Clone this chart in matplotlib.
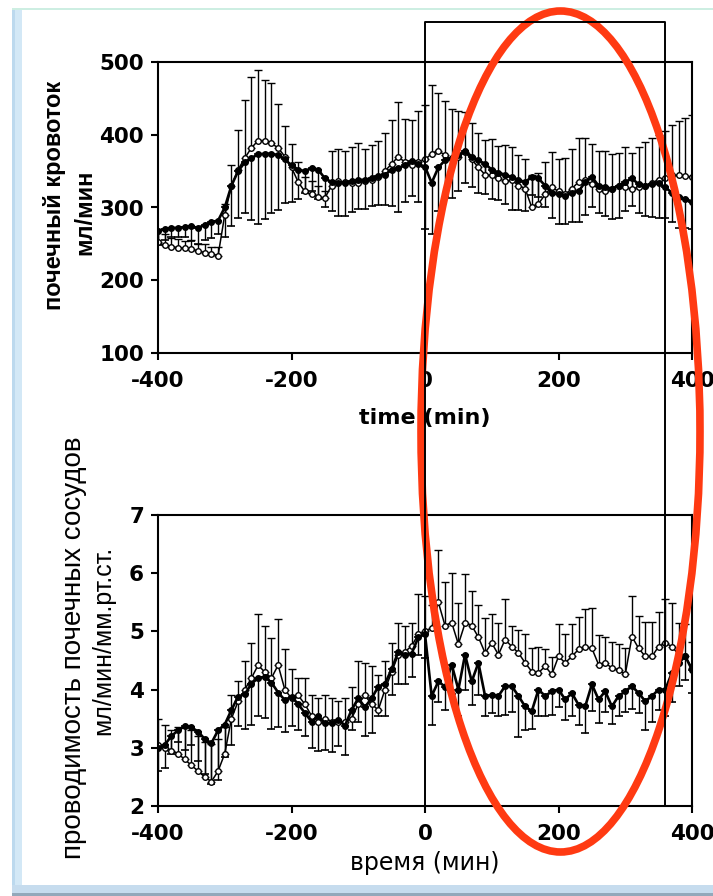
import numpy as np
import matplotlib
matplotlib.use("Agg")
import matplotlib.pyplot as plt
from matplotlib.patches import Rectangle, Ellipse
from matplotlib.lines import Line2D
from matplotlib.transforms import blended_transform_factory

plt.rcParams["axes.unicode_minus"] = False

# ── data ──
time = np.arange(-400, 401, 10)

# renal blood flow, ml/min
flow_a = [268, 270, 272, 272, 273, 274, 272, 276, 280, 282,
          300, 330, 350, 362, 368, 373, 374, 374, 372, 366,
          358, 352, 350, 354, 352, 340, 335, 333, 334, 336,
          338, 338, 340, 343, 345, 352, 354, 358, 364, 360,
          356, 334, 355, 365, 368, 372, 378, 370, 365, 360,
          352, 348, 345, 342, 338, 335, 342, 340, 330, 320,
          318, 316, 320, 322, 335, 342, 330, 328, 326, 330,
          335, 340, 332, 330, 332, 333, 328, 320, 314, 312, 308]
flow_a_up = [18, 15, 12, 12, 10, 12, 10, 12, 10, 12,
             15, 28, 55, 80, 98, 97, 83, 83, 60, 42,
             32, 28, 20, 18, 14, 10, 48, 44, 42, 50,
             55, 45, 48, 50, 52, 60, 75, 60, 62, 70,
             75, 95, 80, 75, 70, 62, 55, 50, 48, 48,
             50, 45, 50, 45, 42, 40, 45, 42, 45, 48,
             45, 50, 55, 60, 58, 55, 52, 55, 48, 45,
             55, 50, 55, 60, 62, 62, 65, 70, 75, 80, 85]
flow_b = [252, 248, 246, 245, 244, 243, 240, 238, 236, 234,
          290, 330, 352, 368, 382, 392, 392, 388, 382, 370,
          355, 335, 322, 318, 315, 313, 330, 336, 335, 333,
          334, 336, 338, 342, 350, 360, 370, 362, 358, 362,
          366, 374, 378, 372, 366, 370, 376, 366, 355, 345,
          344, 340, 336, 338, 330, 326, 300, 305, 318, 328,
          322, 318, 326, 335, 338, 332, 326, 322, 325, 330,
          328, 325, 328, 330, 334, 338, 340, 344, 344, 343, 342]
flow_b_down = [20, 15, 12, 12, 14, 20, 22, 20, 22, 18,
               40, 55, 65, 70, 85, 95, 90, 82, 75, 60,
               50, 40, 30, 32, 40, 40, 40, 45, 45, 42,
               40, 40, 38, 40, 42, 50, 60, 50, 48, 52,
               85, 70, 60, 50, 55, 50, 45, 42, 45, 42,
               40, 38, 40, 45, 42, 40, 25, 25, 30, 35,
               40, 38, 40, 42, 45, 42, 38, 40, 42, 45,
               40, 38, 40, 42, 45, 48, 42, 40, 42, 40, 38]

# renal vascular conductance, ml/min/mmHg
cond_c = [3.05, 3.0, 2.95, 2.9, 2.8, 2.7, 2.6, 2.5, 2.42, 2.6,
          2.9, 3.5, 3.8, 4.0, 4.2, 4.42, 4.3, 4.2, 4.42, 4.0,
          3.85, 3.9, 3.75, 3.55, 3.45, 3.5, 3.45, 3.45, 3.45, 3.5,
          3.75, 3.9, 3.75, 3.65, 4.0, 4.3, 4.6, 4.65, 4.75, 4.95,
          5.0, 5.05, 5.5, 5.1, 5.15, 4.78, 5.14, 5.1, 4.9, 4.63,
          4.8, 4.6, 4.86, 4.74, 4.63, 4.46, 4.31, 4.29, 4.4, 4.26,
          4.57, 4.46, 4.57, 4.69, 4.74, 4.71, 4.43, 4.46, 4.37, 4.34,
          4.26, 4.91, 4.71, 4.57, 4.57, 4.74, 4.8, 4.74, 4.6, 4.57, 4.37]
cond_c_up = [0.45, 0.4, 0.35, 0.45, 0.55, 0.6, 0.6, 0.6, 0.65, 0.55,
             0.45, 0.4, 0.35, 0.5, 0.6, 0.88, 0.8, 0.68, 0.8, 0.7,
             0.5, 0.3, 0.45, 0.35, 0.4, 0.4, 0.4, 0.35, 0.4, 0.55,
             0.75, 0.55, 0.65, 0.6, 0.5, 0.5, 0.55, 0.45, 0.4, 0.7,
             0.6, 0.4, 0.9, 0.75, 0.85, 0.7, 0.85, 0.6, 0.55, 0.6,
             0.5, 0.55, 0.7, 0.35, 0.4, 0.5, 0.4, 0.45, 0.3, 0.3,
             0.55, 0.5, 0.55, 0.55, 0.65, 0.7, 0.5, 0.45, 0.45, 0.45,
             0.45, 0.7, 0.55, 0.6, 0.6, 0.6, 0.75, 0.75, 0.55, 0.55, 0.45]
cond_d = [3.0, 3.05, 3.2, 3.3, 3.37, 3.35, 3.28, 3.15, 3.08, 3.3,
          3.4, 3.65, 3.88, 3.92, 4.1, 4.2, 4.22, 4.12, 3.95, 3.82,
          3.88, 3.75, 3.6, 3.45, 3.55, 3.42, 3.42, 3.48, 3.38, 3.65,
          3.85, 3.7, 3.85, 4.05, 4.1, 4.35, 4.65, 4.6, 4.62, 4.9,
          4.95, 3.89, 4.14, 4.05, 4.43, 4.0, 4.6, 4.14, 4.46, 3.89,
          3.9, 3.89, 4.06, 4.06, 3.89, 3.71, 3.63, 4.0, 3.89, 3.97,
          4.0, 3.83, 3.94, 3.74, 3.71, 4.09, 3.83, 3.97, 3.71, 3.89,
          3.97, 4.06, 3.94, 3.8, 3.89, 4.0, 4.0, 4.29, 4.46, 4.57, 4.34]
cond_d_down = [0.4, 0.4, 0.3, 0.2, 0.4, 0.3, 0.5, 0.6, 0.7, 0.85,
               0.55, 0.6, 0.5, 0.6, 0.7, 0.65, 0.7, 0.8, 0.6, 0.55,
               0.5, 0.45, 0.4, 0.45, 0.6, 0.45, 0.5, 0.45, 0.5, 0.35,
               0.4, 0.5, 0.6, 0.5, 0.55, 0.45, 0.55, 0.5, 0.4, 0.3,
               0.4, 0.5, 0.35, 0.4, 0.5, 0.45, 0.6, 0.4, 0.55, 0.35,
               0.3, 0.35, 0.5, 0.45, 0.7, 0.4, 0.3, 0.45, 0.35, 0.4,
               0.3, 0.35, 0.4, 0.35, 0.45, 0.45, 0.4, 0.35, 0.3, 0.35,
               0.35, 0.4, 0.35, 0.5, 0.45, 0.35, 0.45, 0.5, 0.4, 0.4, 0.4]

x_ticks = [-400, -200, 0, 200, 400]
window = (0, 360)  # highlighted period, min

W, H = 713, 896
fig = plt.figure(figsize=(W / 100, H / 100), dpi=100)
fig.patch.set_facecolor("white")


def px_axes(left, top, right, bottom):
    return fig.add_axes([left / W, 1 - bottom / H, (right - left) / W, (bottom - top) / H])


ax1 = px_axes(158, 62, 692, 353)
ax2 = px_axes(158, 515, 692, 806)

zeros = np.zeros(len(time))
err_kw = dict(color="black", ecolor="black", elinewidth=1.0, capsize=2.6, capthick=1.2)


def draw_pair(ax, y_fill, down, y_open, up):
    ax.errorbar(time, y_open, yerr=[zeros, up], fmt="-o", lw=1.1, ms=4.0,
                mfc="white", mec="black", mew=1.0, **err_kw)
    ax.errorbar(time, y_fill, yerr=[down, zeros], fmt="-o", lw=1.9, ms=4.0,
                mfc="black", mec="black", **err_kw)


draw_pair(ax1, flow_a, flow_b_down, flow_b, flow_a_up)
draw_pair(ax2, cond_d, cond_d_down, cond_c, cond_c_up)

for ax in (ax1, ax2):
    ax.set_xlim(-400, 400)
    ax.set_xticks(x_ticks)
    for s in ax.spines.values():
        s.set_linewidth(1.5)
    ax.tick_params(direction="out", length=5, width=1.5)
    ax.tick_params(axis="x", pad=8)
    ax.tick_params(axis="y", pad=5)

ax1.set_ylim(100, 500)
ax1.set_yticks([100, 200, 300, 400, 500])
ax2.set_ylim(2, 7)
ax2.set_yticks([2, 3, 4, 5, 6, 7])
for ax in (ax1, ax2):
    for lab in ax.get_xticklabels() + ax.get_yticklabels():
        lab.set_fontweight("bold")
        lab.set_fontsize(15.5)

ax1.set_xlabel("time (min)", fontsize=16, fontweight="bold", labelpad=12)
ax2.set_xlabel("время (мин)", fontsize=17, labelpad=5)

# y labels (added in Russian)
rus = "Liberation Sans"
fig.text(55 / W, 1 - 195 / H, "почечный кровоток", rotation=90, ha="center", va="center",
         fontsize=17, fontweight="bold", family=rus)
fig.text(85 / W, 1 - 212 / H, "мл/мин", rotation=90, ha="center", va="center",
         fontsize=17, fontweight="bold", family=rus)
fig.text(74 / W, 1 - 648 / H, "проводимость почечных сосудов", rotation=90, ha="center",
         va="center", fontsize=20, family=rus)
fig.text(103 / W, 1 - 640 / H, "мл/мин/мм.рт.ст.", rotation=90, ha="center", va="center",
         fontsize=18, family=rus)

# box marking the period, across both panels
tr = blended_transform_factory(ax2.transData, fig.transFigure)
y_bot = 1 - 806 / H
y_top = 1 - 22 / H
fig.add_artist(Line2D([window[0], window[0], window[1], window[1]], [y_bot, y_top, y_top, y_bot],
                      transform=tr, color="black", lw=1.4))

# slide frame
fig.add_artist(Rectangle((12 / W, 1 - 886 / H), 10 / W, 878 / H, transform=fig.transFigure,
                         facecolor="#d3e8f6", edgecolor="none"))
fig.add_artist(Rectangle((12 / W, 1 - 886 / H), 3 / W, 878 / H, transform=fig.transFigure,
                         facecolor="#bcd9ee", edgecolor="none"))
fig.add_artist(Rectangle((12 / W, 1 - 10 / H), 701 / W, 2 / H, transform=fig.transFigure,
                         facecolor="#cdeee2", edgecolor="none"))
fig.add_artist(Rectangle((12 / W, 1 - 893 / H), 701 / W, 8 / H, transform=fig.transFigure,
                         facecolor="#c6dcee", edgecolor="none"))
fig.add_artist(Rectangle((12 / W, 0), 701 / W, 3 / H, transform=fig.transFigure,
                         facecolor="#93a8ba", edgecolor="none"))

# red ellipse highlight
fig.add_artist(Ellipse((560.5 / W, 1 - 431.5 / H), 279 / W, 841 / H, transform=fig.transFigure,
                       fill=False, edgecolor="#ff3a12", lw=5.5))

fig.savefig("out.png", dpi=100)
